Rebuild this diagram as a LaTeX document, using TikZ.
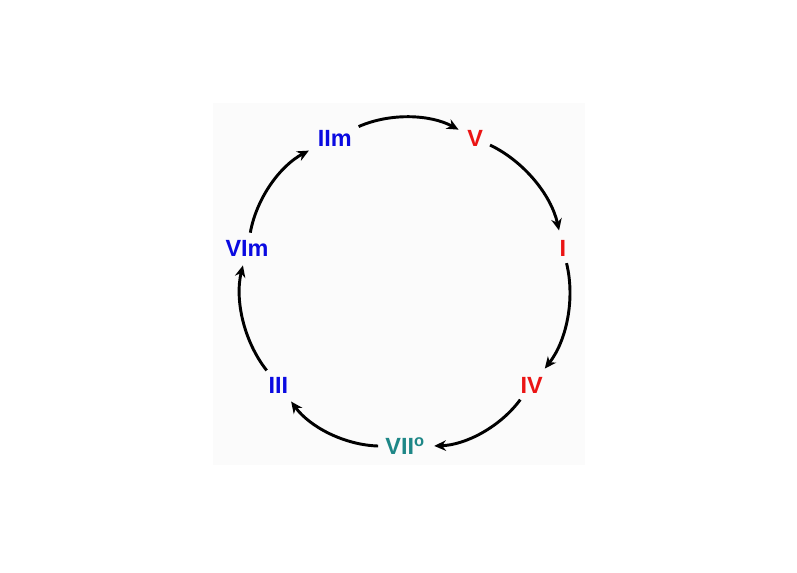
\documentclass[tikz,border=0pt]{standalone}
\usepackage{fontspec}
\setmainfont{Liberation Sans}
\usepackage{xcolor}
\usetikzlibrary{arrows.meta, calc}
\definecolor{chordblue}{RGB}{10,10,225}
\definecolor{chordred}{RGB}{235,20,20}
\definecolor{chordteal}{RGB}{30,135,135}
\tikzset{
    chord/.style={text=#1, font=\fontsize{20}{24}\selectfont\bfseries, inner sep=3pt},
    cyc/.style={-{Stealth[length=10pt, width=9pt]}, line width=2.5pt, shorten >=5pt, shorten <=3pt,
        bend left=26, looseness=0.9},
    panel/.style={fill=black!1.5, draw=none}
}
\begin{document}
\begin{tikzpicture}
    \useasboundingbox (0,0) rectangle (23.91,17.16);
    \fill[panel] (6.39,3.21) rectangle (17.55,14.07); % faint backdrop
    \coordinate (c) at (12.15,8.64);
    \node[chord=chordteal] (VII) at ($(c)+(-90:4.86)$) {VII\textsuperscript{o}};
    \node[chord=chordred]  (IV)  at ($(c)+(-38.57:4.86)$) {IV};
    \node[chord=chordred]  (I)   at ($(c)+(12.86:4.86)$) {I};
    \node[chord=chordred]  (V)   at ($(c)+(64.29:4.86)$) {V};
    \node[chord=chordblue] (IIm) at ($(c)+(115.71:4.86)$) {IIm};
    \node[chord=chordblue] (VIm) at ($(c)+(167.14:4.86)$) {VIm};
    \node[chord=chordblue] (III) at ($(c)+(218.57:4.86)$) {III};
    \draw[cyc] (IIm) to (V);
    \draw[cyc] (V) to (I);
    \draw[cyc] (I) to (IV);
    \draw[cyc] (IV) to (VII);
    \draw[cyc] (VII) to (III);
    \draw[cyc] (III) to (VIm);
    \draw[cyc] (VIm) to (IIm);
\end{tikzpicture}
\end{document}
